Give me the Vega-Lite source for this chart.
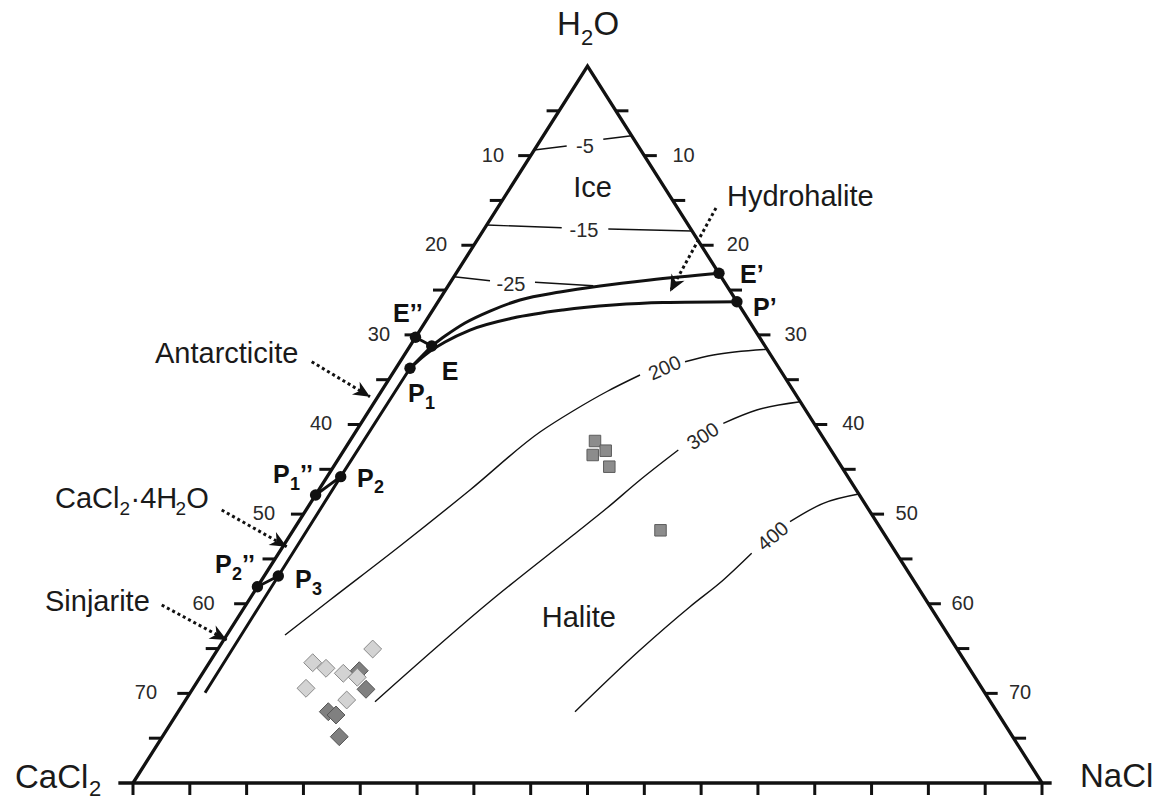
{
  "$schema": "https://vega.github.io/schema/vega-lite/v6.json",
  "width": 1166,
  "height": 801,
  "autosize": {"type": "none"},
  "padding": 0,
  "background": "white",
  "config": {"view": {"stroke": null}, "text": {"font": "Liberation Sans"}},
  "datasets": {
    "frame": [
      {"id": "sides", "o": 1, "x": 0, "y": 0},
      {"id": "sides", "o": 2, "x": 40, "y": 80},
      {"id": "sides", "o": 3, "x": 80, "y": 0},
      {"id": "base", "o": 1, "x": -1.29, "y": 0},
      {"id": "base", "o": 2, "x": 80.85, "y": 0}
    ],
    "sideTicks": [
      {"x": 36.4, "x2": 37.5, "y": 75}, {"x": 33.9, "x2": 35, "y": 70}, {"x": 31.4, "x2": 32.5, "y": 65},
      {"x": 28.9, "x2": 30, "y": 60}, {"x": 26.4, "x2": 27.5, "y": 55}, {"x": 23.9, "x2": 25, "y": 50},
      {"x": 21.4, "x2": 22.5, "y": 45}, {"x": 18.9, "x2": 20, "y": 40}, {"x": 16.4, "x2": 17.5, "y": 35},
      {"x": 13.9, "x2": 15, "y": 30}, {"x": 11.4, "x2": 12.5, "y": 25}, {"x": 8.9, "x2": 10, "y": 20},
      {"x": 6.4, "x2": 7.5, "y": 15}, {"x": 3.9, "x2": 5, "y": 10}, {"x": 1.4, "x2": 2.5, "y": 5},
      {"x": 42.5, "x2": 43.6, "y": 75}, {"x": 45, "x2": 46.1, "y": 70}, {"x": 47.5, "x2": 48.6, "y": 65},
      {"x": 50, "x2": 51.1, "y": 60}, {"x": 52.5, "x2": 53.6, "y": 55}, {"x": 55, "x2": 56.1, "y": 50},
      {"x": 57.5, "x2": 58.6, "y": 45}, {"x": 60, "x2": 61.1, "y": 40}, {"x": 62.5, "x2": 63.6, "y": 35},
      {"x": 65, "x2": 66.1, "y": 30}, {"x": 67.5, "x2": 68.6, "y": 25}, {"x": 70, "x2": 71.1, "y": 20},
      {"x": 72.5, "x2": 73.6, "y": 15}, {"x": 75, "x2": 76.1, "y": 10}, {"x": 77.5, "x2": 78.6, "y": 5}
    ],
    "baseTicks": [
      {"x": 0, "y": 0, "y2": -1.34}, {"x": 5, "y": 0, "y2": -1.34}, {"x": 10, "y": 0, "y2": -1.34},
      {"x": 15, "y": 0, "y2": -1.34}, {"x": 20, "y": 0, "y2": -1.34}, {"x": 25, "y": 0, "y2": -1.34},
      {"x": 30, "y": 0, "y2": -1.34}, {"x": 35, "y": 0, "y2": -1.34}, {"x": 40, "y": 0, "y2": -1.34},
      {"x": 45, "y": 0, "y2": -1.34}, {"x": 50, "y": 0, "y2": -1.34}, {"x": 55, "y": 0, "y2": -1.34},
      {"x": 60, "y": 0, "y2": -1.34}, {"x": 65, "y": 0, "y2": -1.34}, {"x": 70, "y": 0, "y2": -1.34},
      {"x": 75, "y": 0, "y2": -1.34}, {"x": 80, "y": 0, "y2": -1.34}
    ],
    "isotherms": [
      {"id": "m5a", "o": 1, "x": 35.31, "y": 70.628}, {"id": "m5a", "o": 2, "x": 38.17, "y": 71.074},
      {"id": "m5b", "o": 1, "x": 41.391, "y": 71.822}, {"id": "m5b", "o": 2, "x": 43.888, "y": 72.224},
      {"id": "m15a", "o": 1, "x": 31.13, "y": 62.259}, {"id": "m15a", "o": 2, "x": 37.729, "y": 61.958},
      {"id": "m15b", "o": 1, "x": 41.831, "y": 61.813}, {"id": "m15b", "o": 2, "x": 49.205, "y": 61.59},
      {"id": "m25a", "o": 1, "x": 28.25, "y": 56.491}, {"id": "m25a", "o": 2, "x": 31.419, "y": 56.045},
      {"id": "m25b", "o": 1, "x": 35.38, "y": 55.866}, {"id": "m25b", "o": 2, "x": 40.511, "y": 55.487},
      {"id": "t200a", "o": 1, "x": 13.377, "y": 16.513}, {"id": "t200a", "o": 2, "x": 17.338, "y": 20.418},
      {"id": "t200a", "o": 3, "x": 23.498, "y": 26.444}, {"id": "t200a", "o": 4, "x": 29.659, "y": 32.692},
      {"id": "t200a", "o": 5, "x": 35.82, "y": 39.163}, {"id": "t200a", "o": 6, "x": 38.724, "y": 41.506},
      {"id": "t200a", "o": 7, "x": 41.716, "y": 43.682}, {"id": "t200a", "o": 8, "x": 44.621, "y": 45.523},
      {"id": "t200b", "o": 1, "x": 48.581, "y": 47.007}, {"id": "t200b", "o": 2, "x": 51.072, "y": 47.755},
      {"id": "t200b", "o": 3, "x": 55.8, "y": 48.391},
      {"id": "t300a", "o": 1, "x": 21.298, "y": 9.071}, {"id": "t300a", "o": 2, "x": 31.569, "y": 20.418},
      {"id": "t300a", "o": 3, "x": 38.75, "y": 27.671}, {"id": "t300a", "o": 4, "x": 41.69, "y": 30.65},
      {"id": "t300a", "o": 5, "x": 44.621, "y": 33.808}, {"id": "t300a", "o": 6, "x": 47.991, "y": 37.155},
      {"id": "t300b", "o": 1, "x": 51.952, "y": 40.134}, {"id": "t300b", "o": 2, "x": 54.891, "y": 41.618},
      {"id": "t300b", "o": 3, "x": 58.728, "y": 42.544},
      {"id": "t400a", "o": 1, "x": 38.9, "y": 7.955}, {"id": "t400a", "o": 2, "x": 44.621, "y": 14.84},
      {"id": "t400a", "o": 3, "x": 49.021, "y": 19.671}, {"id": "t400a", "o": 4, "x": 51.952, "y": 22.65},
      {"id": "t400a", "o": 5, "x": 54.451, "y": 25.629},
      {"id": "t400b", "o": 1, "x": 57.822, "y": 29.155}, {"id": "t400b", "o": 2, "x": 60.753, "y": 31.208},
      {"id": "t400b", "o": 3, "x": 63.88, "y": 32.245}
    ],
    "boundsCurved": [
      {"id": "upper", "o": 1, "x": 26.29, "y": 48.76}, {"id": "upper", "o": 2, "x": 27.46, "y": 49.87},
      {"id": "upper", "o": 3, "x": 29.22, "y": 51.33}, {"id": "upper", "o": 4, "x": 31.42, "y": 52.66},
      {"id": "upper", "o": 5, "x": 34.06, "y": 53.89}, {"id": "upper", "o": 6, "x": 37.58, "y": 54.78},
      {"id": "upper", "o": 7, "x": 41.1, "y": 55.45}, {"id": "upper", "o": 8, "x": 45.5, "y": 56.12},
      {"id": "upper", "o": 9, "x": 51.57, "y": 56.87},
      {"id": "lower", "o": 1, "x": 24.38, "y": 46.27}, {"id": "lower", "o": 2, "x": 25.7, "y": 47.76},
      {"id": "lower", "o": 3, "x": 27.46, "y": 49.21}, {"id": "lower", "o": 4, "x": 29.66, "y": 50.54},
      {"id": "lower", "o": 5, "x": 33.44, "y": 51.88}, {"id": "lower", "o": 6, "x": 37.84, "y": 52.78},
      {"id": "lower", "o": 7, "x": 42.24, "y": 53.33}, {"id": "lower", "o": 8, "x": 46.65, "y": 53.61},
      {"id": "lower", "o": 9, "x": 53.15, "y": 53.7}
    ],
    "boundsStraight": [
      {"id": "EppE", "o": 1, "x": 24.86, "y": 49.73}, {"id": "EppE", "o": 2, "x": 26.29, "y": 48.76},
      {"id": "EP1", "o": 1, "x": 26.29, "y": 48.76}, {"id": "EP1", "o": 2, "x": 24.38, "y": 46.27},
      {"id": "inner", "o": 1, "x": 24.38, "y": 46.27}, {"id": "inner", "o": 2, "x": 18.28, "y": 34.18},
      {"id": "inner", "o": 3, "x": 12.79, "y": 23.1}, {"id": "inner", "o": 4, "x": 6.34, "y": 10.075},
      {"id": "P1ppP2", "o": 1, "x": 16.07, "y": 32.13}, {"id": "P1ppP2", "o": 2, "x": 18.28, "y": 34.18},
      {"id": "P2ppP3", "o": 1, "x": 10.95, "y": 21.9}, {"id": "P2ppP3", "o": 2, "x": 12.79, "y": 23.1}
    ],
    "dots": [
      {"name": "E''", "x": 24.86, "y": 49.73}, {"name": "E", "x": 26.29, "y": 48.76},
      {"name": "P1", "x": 24.38, "y": 46.27}, {"name": "P1''", "x": 16.07, "y": 32.13},
      {"name": "P2", "x": 18.28, "y": 34.18}, {"name": "P2''", "x": 10.95, "y": 21.9},
      {"name": "P3", "x": 12.79, "y": 23.1}, {"name": "E'", "x": 51.57, "y": 56.87},
      {"name": "P'", "x": 53.15, "y": 53.7}
    ],
    "samples": [
      {"group": "square", "x": 40.66, "y": 38.159}, {"group": "square", "x": 40.458, "y": 36.597},
      {"group": "square", "x": 41.602, "y": 37.077}, {"group": "square", "x": 41.919, "y": 35.292},
      {"group": "square", "x": 46.425, "y": 28.195},
      {"group": "dark", "x": 19.917, "y": 12.53}, {"group": "dark", "x": 20.506, "y": 10.455},
      {"group": "dark", "x": 17.188, "y": 7.955}, {"group": "dark", "x": 17.866, "y": 7.587},
      {"group": "dark", "x": 18.156, "y": 5.166},
      {"group": "light", "x": 21.096, "y": 14.951}, {"group": "light", "x": 15.815, "y": 13.423},
      {"group": "light", "x": 16.986, "y": 12.798}, {"group": "light", "x": 18.508, "y": 12.24},
      {"group": "light", "x": 19.74, "y": 11.794}, {"group": "light", "x": 15.226, "y": 10.566},
      {"group": "light", "x": 18.808, "y": 9.261}
    ],
    "arrows": [
      {"name": "Antarcticite", "o": 1, "x": 15.727, "y": 47.007}, {"name": "Antarcticite", "o": 2, "x": 20.858, "y": 43.102},
      {"name": "CaCl2.4H2O", "o": 1, "x": 7.806, "y": 30.46}, {"name": "CaCl2.4H2O", "o": 2, "x": 13.527, "y": 26.365},
      {"name": "Sinjarite", "o": 1, "x": 2.526, "y": 19.861}, {"name": "Sinjarite", "o": 2, "x": 8.247, "y": 15.955},
      {"name": "Hydrohalite", "o": 1, "x": 51.309, "y": 64.156}, {"name": "Hydrohalite", "o": 2, "x": 47.261, "y": 54.817}
    ],
    "heads": [
      {"name": "Antarcticite", "x": 20.858, "y": 43.102},
      {"name": "CaCl2.4H2O", "x": 13.527, "y": 26.365},
      {"name": "Sinjarite", "x": 8.247, "y": 15.955},
      {"name": "Hydrohalite", "x": 47.261, "y": 54.817}
    ],
    "labels": [
      {"kind": "num", "t": "10", "x": 31.683, "y": 70}, {"kind": "num", "t": "20", "x": 26.667, "y": 60},
      {"kind": "num", "t": "30", "x": 21.65, "y": 50}, {"kind": "num", "t": "40", "x": 16.546, "y": 40},
      {"kind": "num", "t": "50", "x": 11.529, "y": 30}, {"kind": "num", "t": "60", "x": 6.205, "y": 20},
      {"kind": "num", "t": "70", "x": 1.144, "y": 10},
      {"kind": "num", "t": "10", "x": 48.449, "y": 70}, {"kind": "num", "t": "20", "x": 53.245, "y": 60},
      {"kind": "num", "t": "30", "x": 58.324, "y": 50}, {"kind": "num", "t": "40", "x": 63.393, "y": 40},
      {"kind": "num", "t": "50", "x": 68.092, "y": 30}, {"kind": "num", "t": "60", "x": 73.021, "y": 20},
      {"kind": "num", "t": "70", "x": 78.064, "y": 10},
      {"kind": "num", "t": "-5", "x": 39.78, "y": 70.907}, {"kind": "num", "t": "-15", "x": 39.692, "y": 61.59},
      {"kind": "num", "t": "-25", "x": 33.267, "y": 55.565},
      {"kind": "rot200", "t": "200", "x": 46.821, "y": 46.248},
      {"kind": "rot300", "t": "300", "x": 50.192, "y": 38.639},
      {"kind": "rot400", "t": "400", "x": 56.352, "y": 27.481},
      {"kind": "vertex", "t": "H", "x": 37.316, "y": 83.459}, {"kind": "vertex", "t": "O", "x": 40.528, "y": 83.459},
      {"kind": "vertex", "t": "CaCl", "x": -10.385, "y": -0.56}, {"kind": "vertex", "t": "NaCl", "x": 83.345, "y": -0.446},
      {"kind": "vsub", "t": "2", "x": 39.428, "y": 82.343}, {"kind": "vsub", "t": "2", "x": -3.872, "y": -1.5},
      {"kind": "region", "t": "Ice", "x": 38.75, "y": 65.417}, {"kind": "region", "t": "Halite", "x": 35.969, "y": 17.439},
      {"kind": "region", "t": "Hydrohalite", "x": 52.277, "y": 64.379}, {"kind": "region", "t": "Antarcticite", "x": 1.936, "y": 46.828},
      {"kind": "region", "t": "Sinjarite", "x": -7.745, "y": 19.191},
      {"kind": "region", "t": "CaCl", "x": -6.865, "y": 30.683}, {"kind": "region", "t": "·4H", "x": -0.22, "y": 30.683},
      {"kind": "region", "t": "O", "x": 4.682, "y": 30.683},
      {"kind": "rsub", "t": "2", "x": -1.188, "y": 29.902}, {"kind": "rsub", "t": "2", "x": 3.749, "y": 29.902},
      {"kind": "pt", "t": "E’’", "x": 22.882, "y": 51.437}, {"kind": "pt", "t": "E", "x": 27.168, "y": 44.965},
      {"kind": "pt", "t": "P", "x": 24.202, "y": 42.511}, {"kind": "pt", "t": "E’", "x": 53.421, "y": 55.788},
      {"kind": "pt", "t": "P’", "x": 54.566, "y": 52.106},
      {"kind": "pt", "t": "P", "x": 12.321, "y": 33.439}, {"kind": "pt", "t": "’’", "x": 14.698, "y": 33.439},
      {"kind": "pt", "t": "P", "x": 19.714, "y": 33.06},
      {"kind": "pt", "t": "P", "x": 7.217, "y": 23.397}, {"kind": "pt", "t": "’’", "x": 9.593, "y": 23.397},
      {"kind": "pt", "t": "P", "x": 14.257, "y": 21.724},
      {"kind": "ptsub", "t": "1", "x": 25.699, "y": 41.729}, {"kind": "ptsub", "t": "1", "x": 13.817, "y": 32.692},
      {"kind": "ptsub", "t": "2", "x": 21.21, "y": 32.357}, {"kind": "ptsub", "t": "2", "x": 8.713, "y": 22.65},
      {"kind": "ptsub", "t": "3", "x": 15.754, "y": 20.976}
    ]
  },
  "encoding": {
    "x": {"field": "x", "type": "quantitative", "scale": {"domain": [-11.705, 90.913], "nice": false, "zero": false}, "axis": null},
    "y": {"field": "y", "type": "quantitative", "scale": {"domain": [-2.0084, 87.364], "nice": false, "zero": false}, "axis": null}
  },
  "layer": [
    {
      "data": {"name": "isotherms"},
      "mark": {"type": "line", "color": "#111", "strokeWidth": 1.4, "interpolate": "monotone"},
      "encoding": {"detail": {"field": "id"}, "order": {"field": "o"}}
    },
    {
      "data": {"name": "samples"},
      "transform": [{"filter": "datum.group === 'square'"}],
      "mark": {"type": "point", "shape": "square", "filled": true, "size": 132, "fill": "#8c8c8c", "stroke": "#5c5c5c", "strokeWidth": 1, "opacity": 1},
      "encoding": {}
    },
    {
      "data": {"name": "samples"},
      "transform": [{"filter": "datum.group === 'dark'"}],
      "mark": {"type": "point", "shape": "diamond", "filled": true, "size": 320, "fill": "#808080", "stroke": "#555555", "strokeWidth": 1, "opacity": 1},
      "encoding": {}
    },
    {
      "data": {"name": "samples"},
      "transform": [{"filter": "datum.group === 'light'"}],
      "mark": {"type": "point", "shape": "diamond", "filled": true, "size": 320, "fill": "#d3d3d3", "stroke": "#8a8a8a", "strokeWidth": 1, "opacity": 1},
      "encoding": {}
    },
    {
      "data": {"name": "boundsCurved"},
      "mark": {"type": "line", "color": "#111", "strokeWidth": 3, "interpolate": "monotone"},
      "encoding": {"detail": {"field": "id"}, "order": {"field": "o"}}
    },
    {
      "data": {"name": "boundsStraight"},
      "mark": {"type": "line", "color": "#111", "strokeWidth": 3},
      "encoding": {"detail": {"field": "id"}, "order": {"field": "o"}}
    },
    {
      "data": {"name": "frame"},
      "mark": {"type": "line", "color": "#111", "strokeWidth": 3.3, "strokeJoin": "miter"},
      "encoding": {"detail": {"field": "id"}, "order": {"field": "o"}}
    },
    {
      "data": {"name": "sideTicks"},
      "mark": {"type": "rule", "color": "#111", "strokeWidth": 3},
      "encoding": {"x2": {"field": "x2"}}
    },
    {
      "data": {"name": "baseTicks"},
      "mark": {"type": "rule", "color": "#111", "strokeWidth": 3},
      "encoding": {"y2": {"field": "y2"}}
    },
    {
      "data": {"name": "arrows"},
      "mark": {"type": "line", "color": "#111", "strokeWidth": 3, "strokeDash": [3, 3]},
      "encoding": {"detail": {"field": "name"}, "order": {"field": "o"}}
    },
    {
      "data": {"name": "heads"},
      "transform": [{"filter": "datum.name === 'Antarcticite'"}],
      "mark": {"type": "point", "shape": "M0,0L0.45,1L0,0.7L-0.45,1Z", "filled": true, "size": 1100, "color": "#111", "opacity": 1, "angle": 121},
      "encoding": {}
    },
    {
      "data": {"name": "heads"},
      "transform": [{"filter": "datum.name === 'CaCl2.4H2O'"}],
      "mark": {"type": "point", "shape": "M0,0L0.45,1L0,0.7L-0.45,1Z", "filled": true, "size": 1100, "color": "#111", "opacity": 1, "angle": 119.5},
      "encoding": {}
    },
    {
      "data": {"name": "heads"},
      "transform": [{"filter": "datum.name === 'Sinjarite'"}],
      "mark": {"type": "point", "shape": "M0,0L0.45,1L0,0.7L-0.45,1Z", "filled": true, "size": 1100, "color": "#111", "opacity": 1, "angle": 118.3},
      "encoding": {}
    },
    {
      "data": {"name": "heads"},
      "transform": [{"filter": "datum.name === 'Hydrohalite'"}],
      "mark": {"type": "point", "shape": "M0,0L0.45,1L0,0.7L-0.45,1Z", "filled": true, "size": 1100, "color": "#111", "opacity": 1, "angle": 208.8},
      "encoding": {}
    },
    {
      "data": {"name": "dots"},
      "mark": {"type": "point", "shape": "circle", "filled": true, "size": 130, "color": "#111", "opacity": 1},
      "encoding": {}
    },
    {
      "data": {"name": "labels"},
      "transform": [{"filter": "datum.kind === 'num'"}],
      "mark": {"type": "text", "fontSize": 20, "align": "center", "baseline": "middle", "color": "#2a2a2a"},
      "encoding": {"text": {"field": "t"}}
    },
    {
      "data": {"name": "labels"},
      "transform": [{"filter": "datum.kind === 'rot200'"}],
      "mark": {"type": "text", "fontSize": 20, "align": "center", "baseline": "middle", "color": "#2a2a2a", "angle": 336},
      "encoding": {"text": {"field": "t"}}
    },
    {
      "data": {"name": "labels"},
      "transform": [{"filter": "datum.kind === 'rot300'"}],
      "mark": {"type": "text", "fontSize": 20, "align": "center", "baseline": "middle", "color": "#2a2a2a", "angle": 327},
      "encoding": {"text": {"field": "t"}}
    },
    {
      "data": {"name": "labels"},
      "transform": [{"filter": "datum.kind === 'rot400'"}],
      "mark": {"type": "text", "fontSize": 20, "align": "center", "baseline": "middle", "color": "#2a2a2a", "angle": 320},
      "encoding": {"text": {"field": "t"}}
    },
    {
      "data": {"name": "labels"},
      "transform": [{"filter": "datum.kind === 'vertex'"}],
      "mark": {"type": "text", "fontSize": 33, "align": "left", "baseline": "alphabetic", "color": "#1a1a1a"},
      "encoding": {"text": {"field": "t"}}
    },
    {
      "data": {"name": "labels"},
      "transform": [{"filter": "datum.kind === 'vsub'"}],
      "mark": {"type": "text", "fontSize": 22, "align": "left", "baseline": "alphabetic", "color": "#1a1a1a"},
      "encoding": {"text": {"field": "t"}}
    },
    {
      "data": {"name": "labels"},
      "transform": [{"filter": "datum.kind === 'region'"}],
      "mark": {"type": "text", "fontSize": 29, "align": "left", "baseline": "alphabetic", "color": "#1a1a1a"},
      "encoding": {"text": {"field": "t"}}
    },
    {
      "data": {"name": "labels"},
      "transform": [{"filter": "datum.kind === 'rsub'"}],
      "mark": {"type": "text", "fontSize": 19, "align": "left", "baseline": "alphabetic", "color": "#1a1a1a"},
      "encoding": {"text": {"field": "t"}}
    },
    {
      "data": {"name": "labels"},
      "transform": [{"filter": "datum.kind === 'pt'"}],
      "mark": {"type": "text", "fontSize": 25, "fontWeight": "bold", "align": "left", "baseline": "alphabetic", "color": "#111"},
      "encoding": {"text": {"field": "t"}}
    },
    {
      "data": {"name": "labels"},
      "transform": [{"filter": "datum.kind === 'ptsub'"}],
      "mark": {"type": "text", "fontSize": 18, "fontWeight": "bold", "align": "left", "baseline": "alphabetic", "color": "#111"},
      "encoding": {"text": {"field": "t"}}
    }
  ]
}
